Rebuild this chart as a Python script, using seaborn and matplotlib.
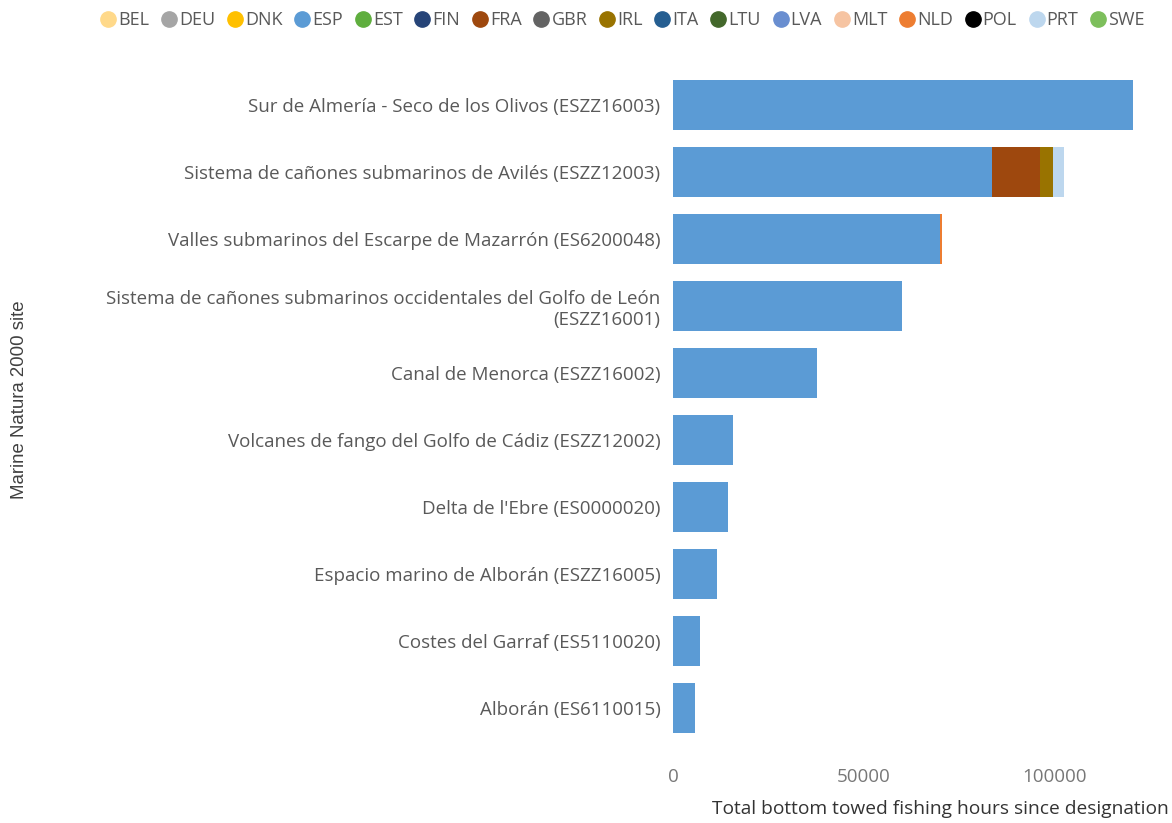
import numpy as np
import pandas as pd
import matplotlib
matplotlib.use("Agg")
import matplotlib.pyplot as plt
from matplotlib.lines import Line2D
import seaborn as sns

# Marine Natura 2000 sites, ordered by total effort
sites = [
    "Sur de Almería - Seco de los Olivos (ESZZ16003)",
    "Sistema de cañones submarinos de Avilés (ESZZ12003)",
    "Valles submarinos del Escarpe de Mazarrón (ES6200048)",
    "Sistema de cañones submarinos occidentales del Golfo de León\n(ESZZ16001)",
    "Canal de Menorca (ESZZ16002)",
    "Volcanes de fango del Golfo de Cádiz (ESZZ12002)",
    "Delta de l'Ebre (ES0000020)",
    "Espacio marino de Alborán (ESZZ16005)",
    "Costes del Garraf (ES5110020)",
    "Alborán (ES6110015)",
]

# Flag states shown in the legend, with their colours
countries = ["BEL", "DEU", "DNK", "ESP", "EST", "FIN", "FRA", "GBR", "IRL",
             "ITA", "LTU", "LVA", "MLT", "NLD", "POL", "PRT", "SWE"]
colors = ["#FFD98A", "#A5A5A5", "#FFC000", "#5B9BD5", "#5FAE3E", "#264478",
          "#9E480E", "#636363", "#997300", "#255E91", "#43682B", "#698ED0",
          "#F6C4A2", "#ED7D31", "#000000", "#BDD7EE", "#7DBF5C"]

# Bottom towed fishing hours per flag state (only non-zero states listed)
esp = [120400, 83500, 69900, 59900, 37700, 15700, 14400, 11500, 7100, 5800]
fra = [0, 12600, 0, 0, 0, 0, 0, 0, 0, 0]
irl = [0, 3400, 0, 0, 0, 0, 0, 0, 0, 0]
nld = [0, 0, 600, 0, 0, 0, 0, 0, 0, 0]
prt = [0, 2900, 0, 0, 0, 0, 0, 0, 0, 0]

hours = {c: [0] * len(sites) for c in countries}
hours.update({"ESP": esp, "FRA": fra, "IRL": irl, "NLD": nld, "PRT": prt})

df = pd.DataFrame(hours, index=sites)
cum = df.cumsum(axis=1)

sns.set_theme(style="white")
plt.rcParams["font.family"] = ["Open Sans", "DejaVu Sans"]

fig = plt.figure(figsize=(11.72, 8.23), dpi=100)
ax = fig.add_axes([673 / 1172, 1 - 741.5 / 823, (1139 - 673) / 1172, (741.5 - 71.5) / 823])

# Stacked bars: draw cumulative totals from the last state back to the first
for c, col in zip(reversed(countries), reversed(colors)):
    plot_df = pd.DataFrame({"site": sites, "value": cum[c].values})
    if plot_df["value"].sum() == 0:
        continue
    sns.barplot(data=plot_df, x="value", y="site", orient="h", color=col,
                width=0.76, saturation=1, ax=ax, linewidth=0)

ax.set_xlim(0, 122000)
ax.set_ylim(len(sites) - 0.5, -0.5)
ax.set_xticks([0, 50000, 100000])
ax.set_xticklabels(["0", "50000", "100000"])
for s in ax.spines.values():
    s.set_visible(False)
ax.tick_params(axis="y", length=0, pad=9, labelsize=13.5, labelcolor="#595959")
ax.tick_params(axis="x", length=0, pad=19, labelsize=13.5, labelcolor="#777777")
ax.grid(False)

ax.set_xlabel("Total bottom towed fishing hours since designation",
              fontsize=13.8, color="#333333")
ax.xaxis.set_label_coords((940 - 673) / 466, -0.088)
ax.set_ylabel("")
fig.text(20 / 1172, 1 - 400 / 823, "Marine Natura 2000 site", rotation=90,
         ha="center", va="center", fontsize=13.4, color="#404040",
         family=["Liberation Sans", "DejaVu Sans"])

handles = [Line2D([], [], marker="o", linestyle="", markersize=11,
                  markerfacecolor=col, markeredgecolor=col) for col in colors]
fig.legend(handles, countries, loc="center", bbox_to_anchor=(622 / 1172, 1 - 20 / 823),
           ncol=len(countries), frameon=False, fontsize=13, labelcolor="#595959",
           handletextpad=0.05, columnspacing=0.6, handlelength=1.0,
           borderaxespad=0)

fig.savefig("out.png", dpi=100)
